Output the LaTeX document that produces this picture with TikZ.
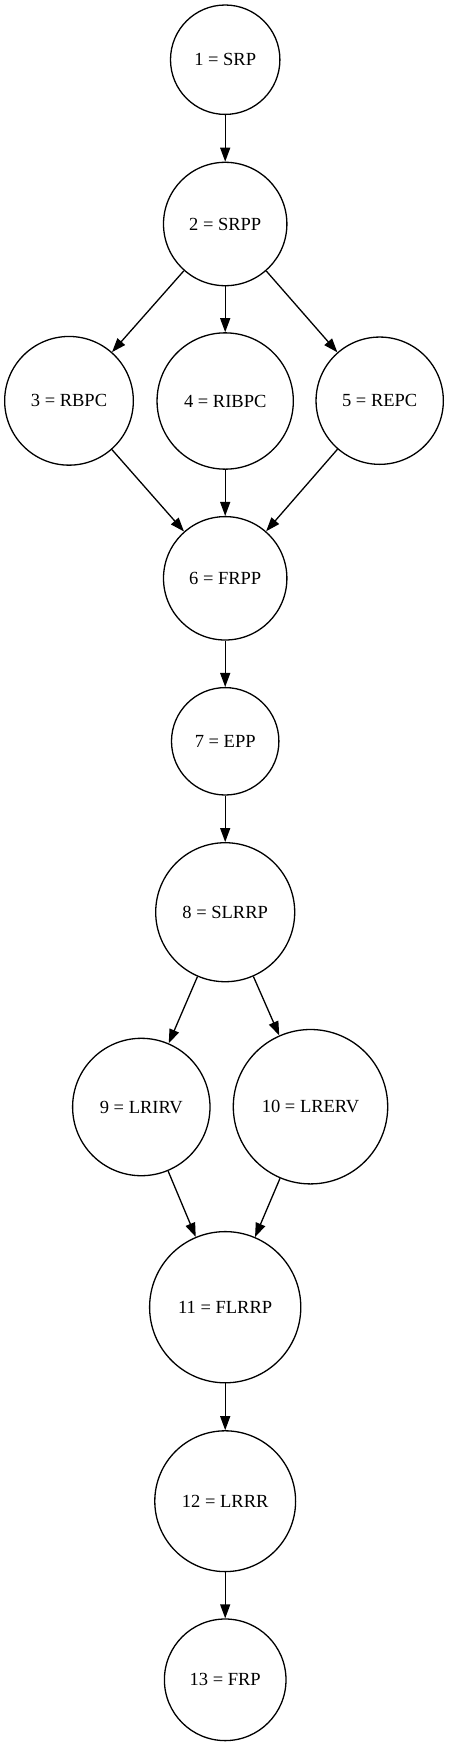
\documentclass[tikz,border=0pt]{standalone}
\usepackage{fontspec}
\setmainfont{Liberation Serif}
\usetikzlibrary{arrows.meta}
\begin{document}
\begin{tikzpicture}[x=1pt,y=-1pt,
  st/.style={circle,draw,line width=1.3pt,inner sep=0pt,font=\fontsize{18.5}{22}\selectfont},
  conn/.style={line width=1.3pt,-{Triangle[length=14pt,width=10pt]}}]
\useasboundingbox (0,0) rectangle (449,1746);
\node[st,minimum size=109.4pt] (n1) at (225.2,59.7) {1 = SRP};
\node[st,minimum size=123.4pt] (n2) at (225.2,224) {2 = SRPP};
\node[st,minimum size=128.7pt] (n3) at (69,400.8) {3 = RBPC};
\node[st,minimum size=136.3pt] (n4) at (225.2,401) {4 = RIBPC};
\node[st,minimum size=127.3pt] (n5) at (379.7,400.7) {5 = REPC};
\node[st,minimum size=123.4pt] (n6) at (225.2,578.3) {6 = FRPP};
\node[st,minimum size=107.4pt] (n7) at (225.2,741.3) {7 = EPP};
\node[st,minimum size=139pt] (n8) at (225.2,912.2) {8 = SLRRP};
\node[st,minimum size=137.4pt] (n9) at (141.3,1107) {9 = LRIRV};
\node[st,minimum size=154.4pt] (n10) at (310.5,1106.7) {10 = LRERV};
\node[st,minimum size=151.2pt] (n11) at (225.2,1307.2) {11 = FLRRP};
\node[st,minimum size=140.8pt] (n12) at (225.2,1501.2) {12 = LRRR};
\node[st,minimum size=121.6pt] (n13) at (225.2,1679.8) {13 = FRP};
\draw[conn] (n1) -- (n2);
\draw[conn] (n2) -- (n3);
\draw[conn] (n2) -- (n4);
\draw[conn] (n2) -- (n5);
\draw[conn] (n3) -- (n6);
\draw[conn] (n4) -- (n6);
\draw[conn] (n5) -- (n6);
\draw[conn] (n6) -- (n7);
\draw[conn] (n7) -- (n8);
\draw[conn] (n8) -- (n9);
\draw[conn] (n8) -- (n10);
\draw[conn] (n9) -- (n11);
\draw[conn] (n10) -- (n11);
\draw[conn] (n11) -- (n12);
\draw[conn] (n12) -- (n13);
\end{tikzpicture}
\end{document}
